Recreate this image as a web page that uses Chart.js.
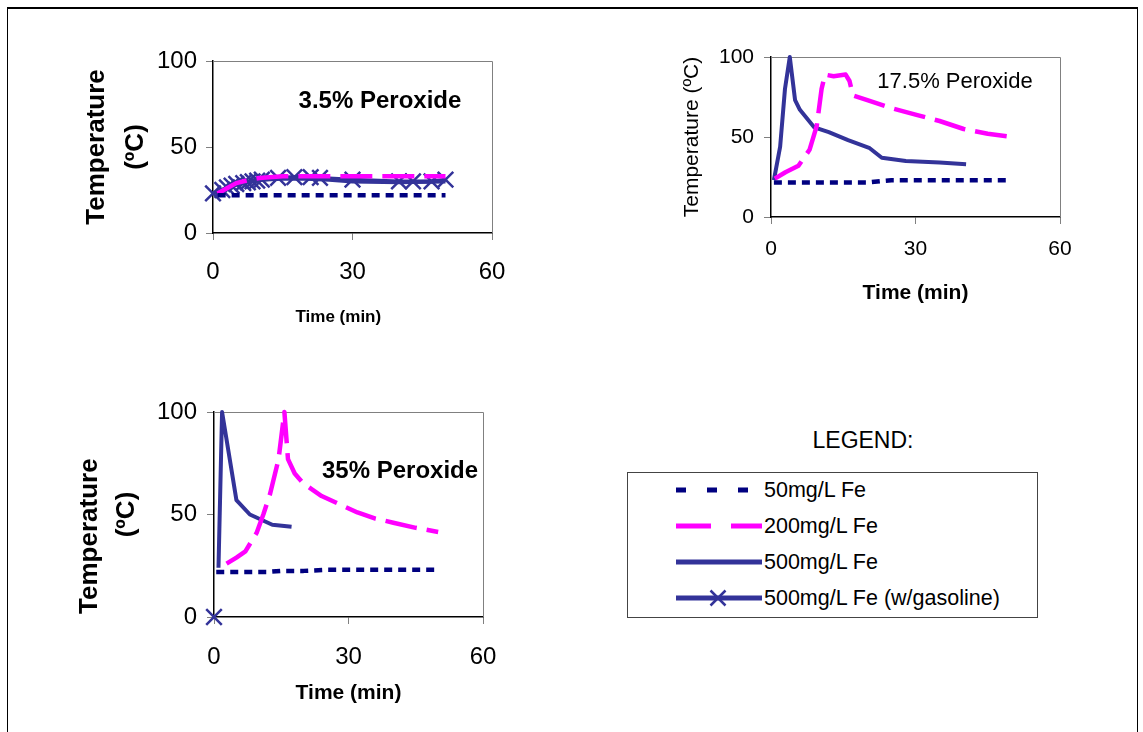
<!DOCTYPE html>
<html><head><meta charset="utf-8">
<script src="https://cdn.jsdelivr.net/npm/chart.js@4.4.0/dist/chart.umd.min.js"></script>
<style>
html,body{margin:0;padding:0;background:#fff;width:1143px;height:732px;overflow:hidden;font-family:"Liberation Sans",Arial,sans-serif;}
.frame{position:absolute;left:7px;top:7px;width:1131px;height:800px;border-top:2px solid #000;border-left:1px solid #000;border-right:1px solid #000;box-sizing:border-box;}
canvas{position:absolute;}
#legendTitle{position:absolute;left:763px;width:200px;text-align:center;top:427px;font-size:23px;line-height:26px;color:#000;}
#legendBox{position:absolute;left:627px;top:472px;width:411px;height:146px;border:1px solid #444;box-sizing:border-box;}
.lgs{position:absolute;left:676px;width:86px;height:20px;}
.lgt{position:absolute;left:764px;font-size:21.5px;line-height:24px;color:#000;white-space:nowrap;}
</style>
</head><body>
<div class="frame"></div>
<canvas id="c1" width="460" height="300" style="left:60px;top:40px;"></canvas>
<canvas id="c2" width="450" height="300" style="left:640px;top:30px;"></canvas>
<canvas id="c3" width="450" height="330" style="left:60px;top:390px;"></canvas>
<div id="legendTitle">LEGEND:</div>
<div id="legendBox"></div>
<div id="legendRows"></div>
<script>
// ---------- DATA ----------
const seriesNames = ['50mg/L Fe', '200mg/L Fe', '500mg/L Fe', '500mg/L Fe (w/gasoline)'];
const panelTitles = ['3.5% Peroxide', '17.5% Peroxide', '35% Peroxide'];
const xTicks = [0, 30, 60];
const yTicks = [0, 50, 100];

// Panel 1: 3.5% peroxide
const p1_t50 = [1, 5, 10, 15, 20, 25, 30, 35, 40, 45, 50];
const p1_v50 = [22, 22, 22, 22, 22, 22, 22, 22, 22, 22, 22];
const p1_t200 = [1, 3, 5, 8, 10, 15, 20, 25, 30, 35, 40, 45, 50];
const p1_v200 = [23, 26, 29, 31, 32, 33, 33, 33, 33, 33, 33, 33, 33];
const p1_t500 = [0.5, 2, 4, 6, 8, 10, 15, 20, 25, 30, 40, 50];
const p1_v500 = [23, 25, 27, 29, 30, 31, 31.5, 31.5, 31, 30, 29.5, 30];
const p1_tGas = [0, 2, 3, 4, 5, 6.5, 7.5, 8.5, 9.5, 10.5, 14, 17.5, 21, 23, 30, 40, 43, 47, 50];
const p1_vGas = [23, 25, 26.5, 27.5, 28.5, 29, 29.5, 30, 30.5, 31, 32, 32.5, 32.5, 32, 31, 30, 30, 30, 31];

// Panel 2: 17.5% peroxide
const p2_t50 = [0.6, 2, 4, 6, 8, 10, 15, 20, 23, 25, 30, 35, 40, 45, 49];
const p2_v50 = [21.5, 21.5, 21.5, 21.5, 21.5, 21.5, 21.5, 21.5, 22.5, 23, 23, 23, 23, 23, 23];
const p2_t200 = [0.8, 3, 5.7, 8, 9.5, 10.5, 11.2, 13, 15.5, 16.3, 17, 20, 25, 30, 35, 40, 45, 50.3];
const p2_v200 = [24, 28, 32, 42, 57, 80, 89, 88, 89, 85, 76, 73, 68, 64, 60, 55, 52, 50];
const p2_t500 = [0.6, 1.9, 2.9, 3.9, 5, 6, 9, 12, 16, 20.5, 23, 28, 35, 40.5];
const p2_v500 = [23, 44, 80, 100, 73, 67, 56, 53, 48, 43, 37, 35, 34, 33];

// Panel 3: 35% peroxide
const p3_t50 = [0.5, 3, 6, 9, 12, 15, 20, 25, 30, 35, 40, 45, 50];
const p3_v50 = [22, 22, 22, 22, 22, 22.5, 22.5, 23, 23, 23, 23, 23, 23];
const p3_t200 = [2.8, 5, 7, 9.5, 11, 12.5, 14.4, 15.7, 16.5, 18, 20, 24, 28, 32, 36, 40, 45, 50];
const p3_v200 = [26, 29, 32, 41, 50, 60, 77, 100, 77, 70, 65, 59, 55, 51, 48, 46, 43.5, 41.5];
const p3_t500 = [1, 1.8, 5, 8, 13, 17.3];
const p3_v500 = [24, 100, 57, 50, 45, 44];
const p3_tGas = [0];
const p3_vGas = [0];

// ---------- STYLES ----------
const FONT = '"Liberation Sans", Arial, sans-serif';
const styles = [
  {borderColor:'#000080', borderWidth:4.5, borderDash:[8,6], pointRadius:0},
  {borderColor:'#FF00FF', borderWidth:4.5, borderDash:[32,10], pointRadius:0},
  {borderColor:'#333399', borderWidth:4, pointRadius:0},
  {borderColor:'#333399', borderWidth:4, pointStyle:'crossRot', pointRadius:11, pointBorderWidth:2.5, pointBorderColor:'#333399', pointBackgroundColor:'#333399'}
];
function pts(t, v){ return t.map((x,i)=>({x:x, y:v[i]})); }
function ds(idx, t, v){
  return Object.assign({label: seriesNames[idx], data: pts(t,v), fill:false, tension:0, clip:false, borderCapStyle:'butt', borderJoinStyle:'round'}, styles[idx]);
}

const panelPlugin = {
  id: 'panelPlugin',
  beforeDatasetsDraw(chart){
    const {ctx, chartArea:a} = chart;
    ctx.save(); ctx.strokeStyle = '#808080'; ctx.lineWidth = 1;
    ctx.beginPath(); ctx.moveTo(a.left, a.top+0.5); ctx.lineTo(a.right+0.5, a.top+0.5); ctx.lineTo(a.right+0.5, a.bottom); ctx.stroke();
    ctx.restore();
  },
  afterDatasetsDraw(chart, args, opts){
    if (!opts || !opts.text) return;
    const {ctx} = chart;
    const x = chart.scales.x.getPixelForValue(opts.x), y = chart.scales.y.getPixelForValue(opts.y);
    ctx.save(); ctx.font = opts.font; ctx.fillStyle = '#000'; ctx.textAlign = 'center'; ctx.textBaseline = 'middle';
    ctx.fillText(opts.text, x, y); ctx.restore();
  }
};

function makePanel(id, datasets, c){
  return new Chart(document.getElementById(id), {
    type: 'line',
    data: {datasets},
    plugins: [panelPlugin],
    options: {
      responsive:false, animation:false, events:[], devicePixelRatio:1,
      layout:{padding:{top:c.padTop, right:c.padRight, left:0, bottom:0}},
      plugins:{legend:{display:false}, tooltip:{enabled:false}, panelPlugin:c.note},
      scales:{
        x:{type:'linear', min:0, max:60,
           afterBuildTicks(s){ s.ticks = xTicks.map(v=>({value:v})); },
           afterFit(s){ s.height = c.xH; s.paddingLeft = 0; s.paddingRight = 0; },
           ticks:{color:'#000', padding:c.xTickPad, maxRotation:0, autoSkip:false, font:{family:FONT, size:c.xTickSize}},
           grid:{drawOnChartArea:false, drawTicks:true, tickLength:7, color:'#808080'},
           border:{display:true, color:'#000', width:1.5},
           title:{display:true, text:c.xTitle, color:'#000', padding:{top:0, bottom:c.xTitlePad}, font:{family:FONT, size:c.xTitleSize, weight:'bold'}}
        },
        y:{type:'linear', min:0, max:100,
           afterBuildTicks(s){ s.ticks = yTicks.map(v=>({value:v})); },
           afterFit(s){ s.width = c.yW; s.paddingTop = 0; s.paddingBottom = 0; },
           ticks:{color:'#000', padding:c.yTickPad, font:{family:FONT, size:c.yTickSize}},
           grid:{drawOnChartArea:false, drawTicks:true, tickLength:7, color:'#808080'},
           border:{display:true, color:'#000', width:1.5},
           title:{display:true, text:c.yTitle, color:'#000', padding:{top:c.yTitlePad, bottom:0}, font:{family:FONT, size:c.yTitleSize, weight:c.yTitleWeight, lineHeight:c.yTitleLH}}
        }
      }
    }
  });
}

makePanel('c1', [ds(0,p1_t50,p1_v50), ds(1,p1_t200,p1_v200), ds(2,p1_t500,p1_v500), ds(3,p1_tGas,p1_vGas)], {
  padTop:21, padRight:28, yW:153, xH:107, xTickPad:18, xTickSize:24, yTickPad:9, yTickSize:24,
  xTitle:'Time (min)      ', xTitleSize:17, xTitlePad:12,
  yTitle:['Temperature','(ºC)'], yTitleSize:26, yTitleWeight:'bold', yTitleLH:1.5, yTitlePad:17.5,
  note:{text:panelTitles[0], x:35.9, y:76.7, font:'bold 24px '+FONT}
});
makePanel('c2', [ds(0,p2_t50,p2_v50), ds(1,p2_t200,p2_v200), ds(2,p2_t500,p2_v500)], {
  padTop:27, padRight:30, yW:131, xH:113, xTickPad:13, xTickSize:21, yTickPad:10, yTickSize:21,
  xTitle:'Time (min)', xTitleSize:21, xTitlePad:24,
  yTitle:'Temperature (ºC)', yTitleSize:21, yTitleWeight:'normal', yTitleLH:1.2, yTitlePad:40,
  note:{text:panelTitles[1], x:38.2, y:84.4, font:'22px '+FONT}
});
makePanel('c3', [ds(0,p3_t50,p3_v50), ds(1,p3_t200,p3_v200), ds(2,p3_t500,p3_v500), ds(3,p3_tGas,p3_vGas)], {
  padTop:22, padRight:27, yW:154, xH:103, xTickPad:19, xTickSize:24, yTickPad:10, yTickSize:24,
  xTitle:'Time (min)', xTitleSize:21, xTitlePad:14,
  yTitle:['Temperature      ','(ºC)'], yTitleSize:26, yTitleWeight:'bold', yTitleLH:1.42, yTitlePad:11.5,
  note:{text:panelTitles[2], x:41.5, y:71.2, font:'bold 24px '+FONT}
});

// ---------- LEGEND ----------
const rowCenters = [490, 526, 562, 598];
const samples = [
  '<line x1="0" y1="10" x2="86" y2="10" stroke="#000080" stroke-width="5" stroke-dasharray="10 21"/>',
  '<line x1="0" y1="10" x2="86" y2="10" stroke="#FF00FF" stroke-width="5" stroke-dasharray="35 20"/>',
  '<line x1="0" y1="10" x2="86" y2="10" stroke="#333399" stroke-width="5"/>',
  '<line x1="0" y1="10" x2="86" y2="10" stroke="#333399" stroke-width="5"/><line x1="34.5" y1="2.5" x2="49.5" y2="17.5" stroke="#333399" stroke-width="2.5"/><line x1="49.5" y1="2.5" x2="34.5" y2="17.5" stroke="#333399" stroke-width="2.5"/>'
];
let html = '';
seriesNames.forEach((n,i)=>{
  html += '<svg class="lgs" style="top:'+(rowCenters[i]-10)+'px" viewBox="0 0 86 20">'+samples[i]+'</svg>';
  html += '<div class="lgt" style="top:'+(rowCenters[i]-12)+'px">'+n+'</div>';
});
document.getElementById('legendRows').innerHTML = html;
</script>
</body></html>
